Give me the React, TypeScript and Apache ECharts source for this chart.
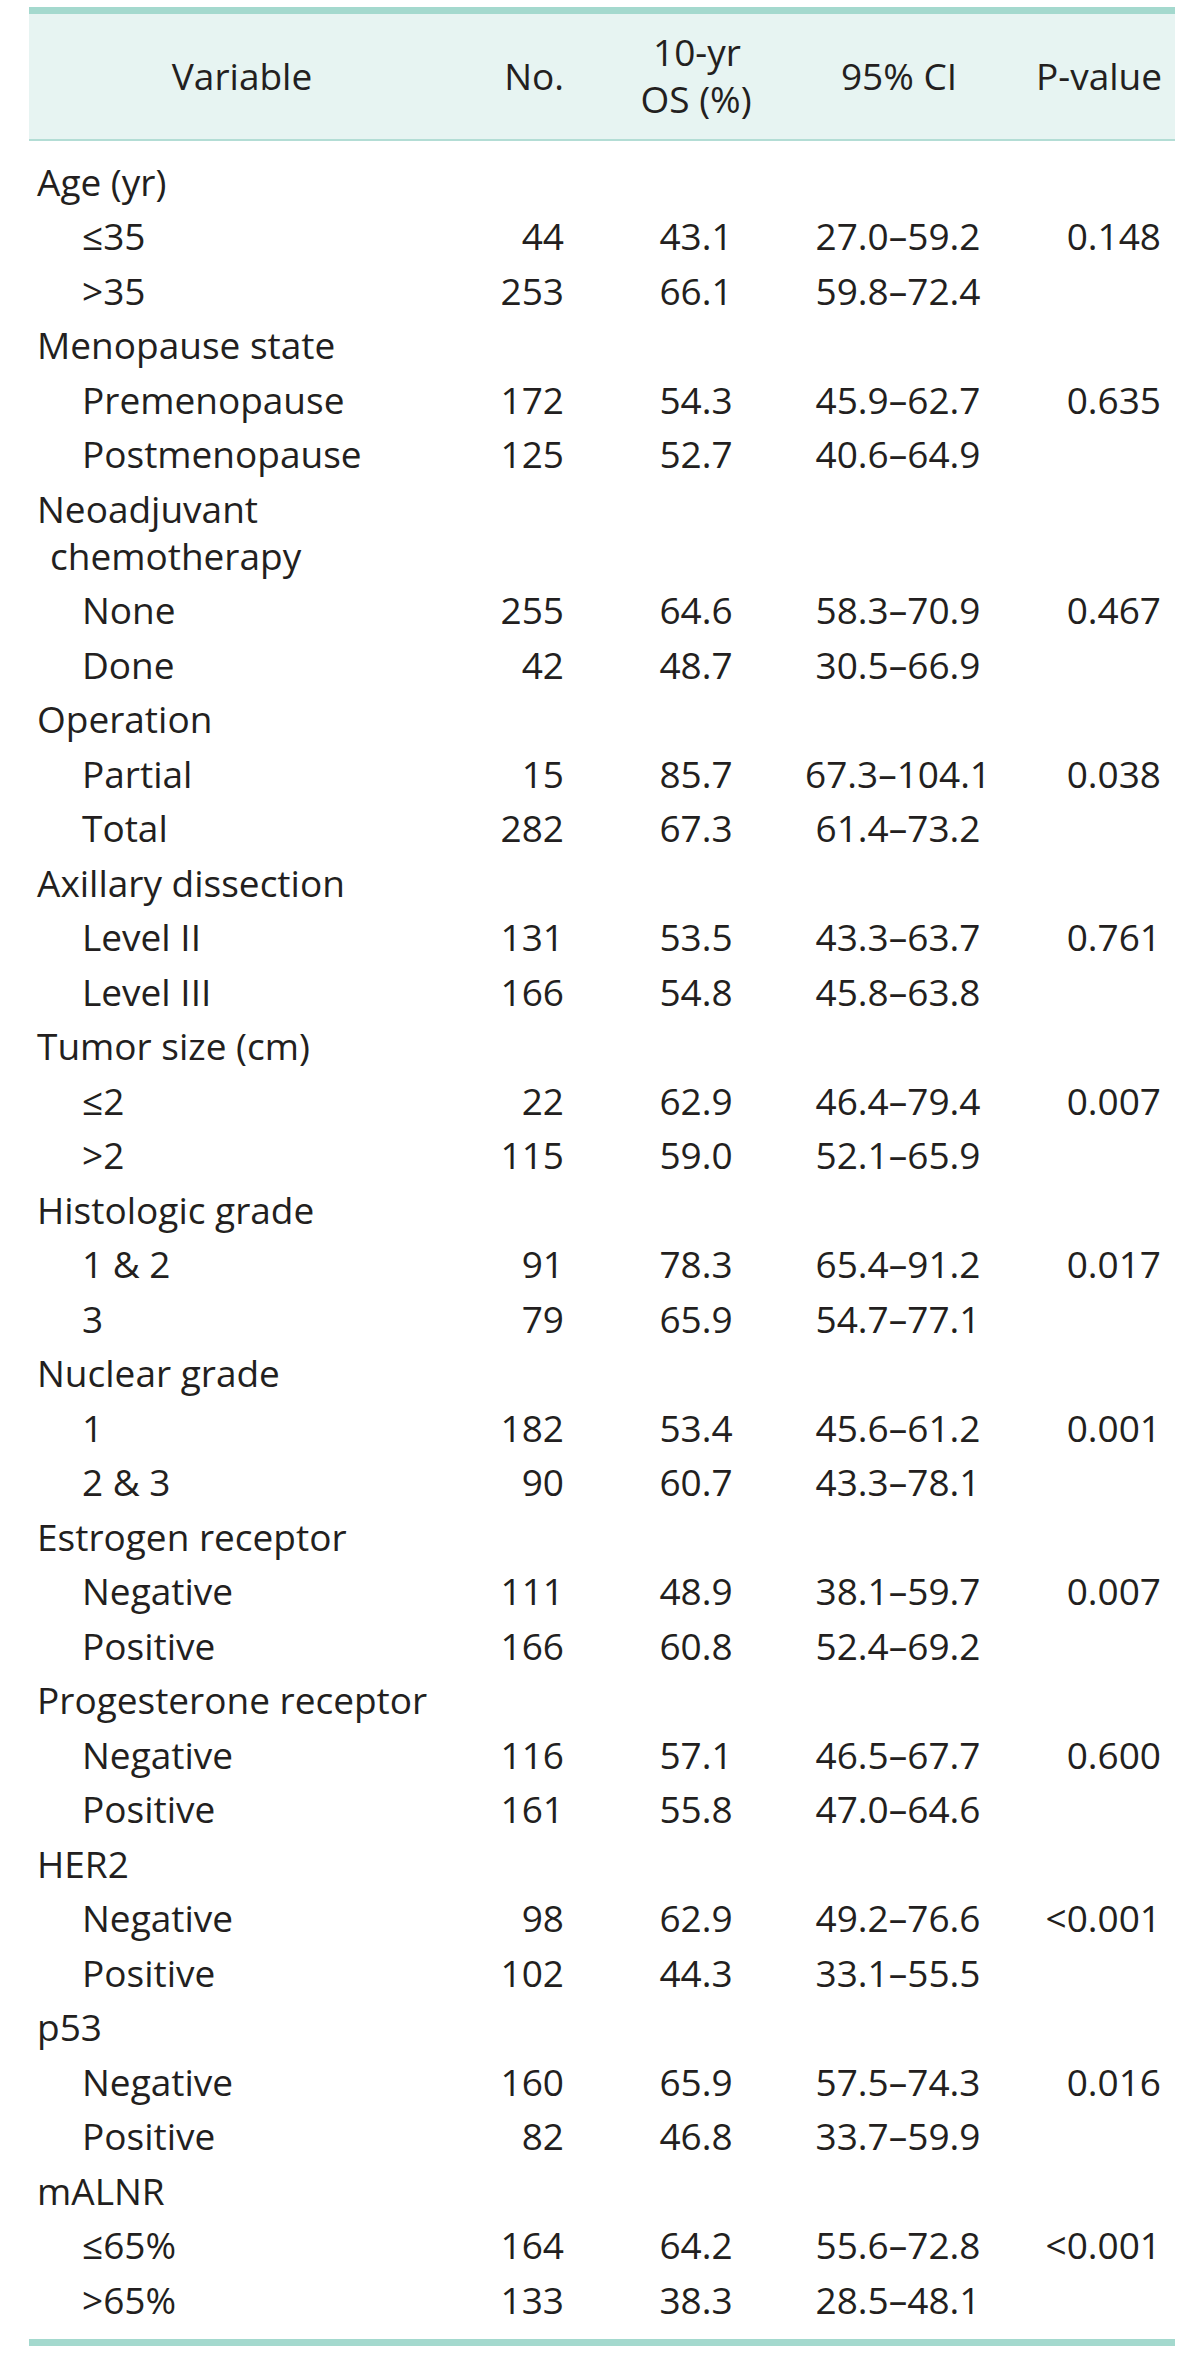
import React, { useEffect, useRef } from "react";
import * as echarts from "echarts";

// ---- Data ----
const headerCols = ["Variable", "No.", "10-yr\nOS (%)", "95% CI", "P-value"];

// level: 0 = group heading, 1 = sub-category, 2 = continuation of heading
const rowLabels = [
  "Age (yr)", "≤35", ">35",
  "Menopause state", "Premenopause", "Postmenopause",
  "Neoadjuvant", "chemotherapy", "None", "Done",
  "Operation", "Partial", "Total",
  "Axillary dissection", "Level II", "Level III",
  "Tumor size (cm)", "≤2", ">2",
  "Histologic grade", "1 & 2", "3",
  "Nuclear grade", "1", "2 & 3",
  "Estrogen receptor", "Negative", "Positive",
  "Progesterone receptor", "Negative", "Positive",
  "HER2", "Negative", "Positive",
  "p53", "Negative", "Positive",
  "mALNR", "≤65%", ">65%",
];
const rowLevels = [
  0, 1, 1,
  0, 1, 1,
  0, 2, 1, 1,
  0, 1, 1,
  0, 1, 1,
  0, 1, 1,
  0, 1, 1,
  0, 1, 1,
  0, 1, 1,
  0, 1, 1,
  0, 1, 1,
  0, 1, 1,
  0, 1, 1,
];
const nValues = [
  null, 44, 253,
  null, 172, 125,
  null, null, 255, 42,
  null, 15, 282,
  null, 131, 166,
  null, 22, 115,
  null, 91, 79,
  null, 182, 90,
  null, 111, 166,
  null, 116, 161,
  null, 98, 102,
  null, 160, 82,
  null, 164, 133,
];
const osValues = [
  null, "43.1", "66.1",
  null, "54.3", "52.7",
  null, null, "64.6", "48.7",
  null, "85.7", "67.3",
  null, "53.5", "54.8",
  null, "62.9", "59.0",
  null, "78.3", "65.9",
  null, "53.4", "60.7",
  null, "48.9", "60.8",
  null, "57.1", "55.8",
  null, "62.9", "44.3",
  null, "65.9", "46.8",
  null, "64.2", "38.3",
];
const ciValues = [
  null, "27.0–59.2", "59.8–72.4",
  null, "45.9–62.7", "40.6–64.9",
  null, null, "58.3–70.9", "30.5–66.9",
  null, "67.3–104.1", "61.4–73.2",
  null, "43.3–63.7", "45.8–63.8",
  null, "46.4–79.4", "52.1–65.9",
  null, "65.4–91.2", "54.7–77.1",
  null, "45.6–61.2", "43.3–78.1",
  null, "38.1–59.7", "52.4–69.2",
  null, "46.5–67.7", "47.0–64.6",
  null, "49.2–76.6", "33.1–55.5",
  null, "57.5–74.3", "33.7–59.9",
  null, "55.6–72.8", "28.5–48.1",
];
const pValues = [
  null, "0.148", null,
  null, "0.635", null,
  null, null, "0.467", null,
  null, "0.038", null,
  null, "0.761", null,
  null, "0.007", null,
  null, "0.017", null,
  null, "0.001", null,
  null, "0.007", null,
  null, "0.600", null,
  null, "<0.001", null,
  null, "0.016", null,
  null, "<0.001", null,
];

// ---- Layout / style ----
const W = 1200;
const H = 2355;
const FONT = "'Open Sans', 'Noto Sans', sans-serif";
const FS = 37;
const TEXT = "#231f20";
const TABLE_L = 29;
const TABLE_R = 1175;
const BAR = "#a4d9ce";
const HEAD_BG = "#e7f4f2";
const HEAD_LINE = "#b3ddd5";
const BASE_OFF = 14; // baseline -> central offset
const ROW0 = 195;
const ROW_H = 54.5;
const WRAP_H = 47;
const X_GROUP = 37;
const X_SUB = 82;
const X_CONT = 50;
const X_N = 564; // right
const X_OS = 696; // center
const X_CI = 898; // center
const X_P = 1161; // right

function rowBaseline(i: number): number {
  let y = ROW0;
  for (let k = 1; k <= i; k++) y += rowLevels[k] === 2 ? WRAP_H : ROW_H;
  return y;
}

function txt(text: string, x: number, baseline: number, align: string) {
  return {
    type: "text",
    x,
    y: baseline - BASE_OFF,
    silent: true,
    style: {
      text,
      fill: TEXT,
      font: `${FS}px ${FONT}`,
      fontSize: FS,
      fontFamily: FONT,
      textAlign: align,
      textVerticalAlign: "middle",
      verticalAlign: "middle",
    },
  };
}

export default function App() {
  const ref = useRef<HTMLDivElement>(null);
  useEffect(() => {
    document.body.style.margin = "0";
    if (!ref.current) return;
    const chart = echarts.init(ref.current, undefined, { renderer: "svg", width: W, height: H });

    const els: any[] = [];
    // header background & rules
    els.push({ type: "rect", shape: { x: TABLE_L, y: 14, width: TABLE_R - TABLE_L, height: 125 }, style: { fill: HEAD_BG }, silent: true });
    els.push({ type: "rect", shape: { x: TABLE_L, y: 7, width: TABLE_R - TABLE_L, height: 7 }, style: { fill: BAR }, silent: true });
    els.push({ type: "rect", shape: { x: TABLE_L, y: 139, width: TABLE_R - TABLE_L, height: 2 }, style: { fill: HEAD_LINE }, silent: true });

    const lastB = rowBaseline(rowLabels.length - 1);
    els.push({ type: "rect", shape: { x: TABLE_L, y: lastB + 26, width: TABLE_R - TABLE_L, height: 7 }, style: { fill: BAR }, silent: true });

    // header texts
    els.push(txt(headerCols[0], 242, 89, "center"));
    els.push(txt(headerCols[1], X_N, 89, "right"));
    const osLines = headerCols[2].split("\n");
    els.push(txt(osLines[0], 697, 65, "center"));
    els.push(txt(osLines[1], 696, 112, "center"));
    els.push(txt(headerCols[3], 899, 89, "center"));
    els.push(txt(headerCols[4], 1162, 89, "right"));

    // body rows
    rowLabels.forEach((label, i) => {
      const b = rowBaseline(i);
      const lvl = rowLevels[i];
      const x = lvl === 0 ? X_GROUP : lvl === 2 ? X_CONT : X_SUB;
      els.push(txt(label, x, b, "left"));
      if (nValues[i] != null) els.push(txt(String(nValues[i]), X_N, b, "right"));
      if (osValues[i] != null) els.push(txt(osValues[i] as string, X_OS, b, "center"));
      if (ciValues[i] != null) els.push(txt(ciValues[i] as string, X_CI, b, "center"));
      if (pValues[i] != null) els.push(txt(pValues[i] as string, X_P, b, "right"));
    });

    chart.setOption({
      animation: false,
      backgroundColor: "#ffffff",
      graphic: { elements: els },
    });
    return () => chart.dispose();
  }, []);
  return <div ref={ref} style={{ width: W, height: H }} />;
}
